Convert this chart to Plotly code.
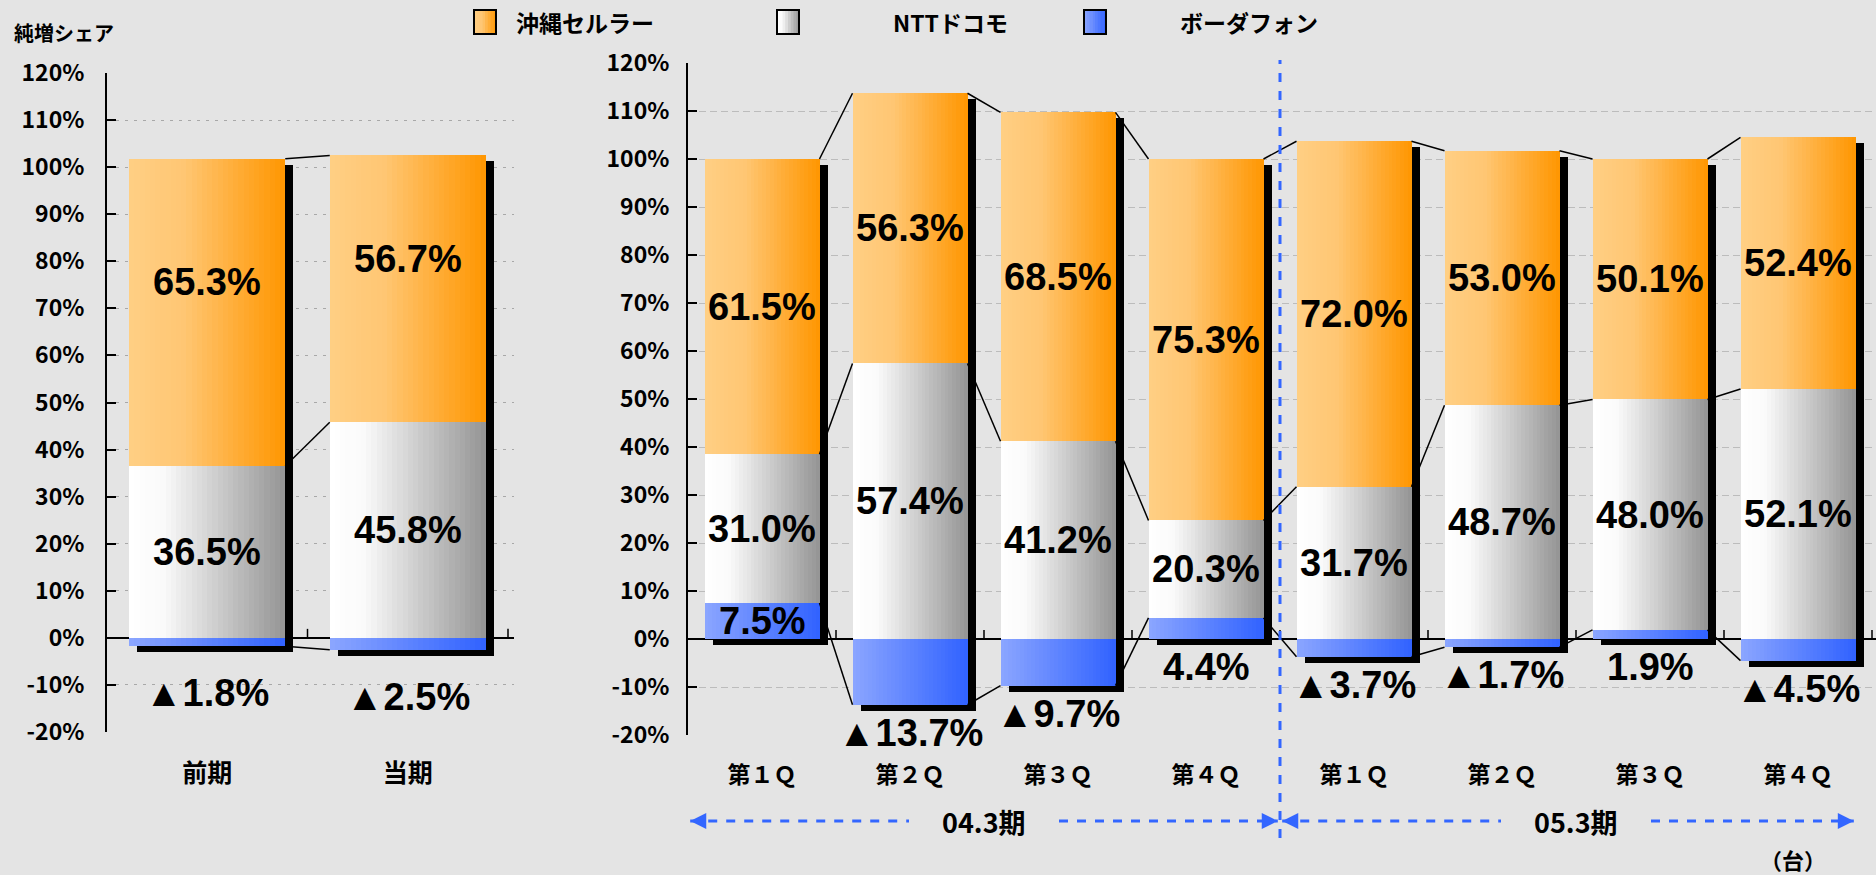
import plotly.graph_objects as go

# ---------------- data ----------------
series_names = ["沖縄セルラー", "NTTドコモ", "ボーダフォン"]

annual_labels = ["前期", "当期"]
annual_okinawa = [65.3, 56.7]
annual_docomo = [36.5, 45.8]
annual_vodafone = [-1.8, -2.5]

quarter_labels = ["第１Ｑ", "第２Ｑ", "第３Ｑ", "第４Ｑ", "第１Ｑ", "第２Ｑ", "第３Ｑ", "第４Ｑ"]
quarter_okinawa = [61.5, 56.3, 68.5, 75.3, 72.0, 53.0, 50.1, 52.4]
quarter_docomo = [31.0, 57.4, 41.2, 20.3, 31.7, 48.7, 48.0, 52.1]
quarter_vodafone = [7.5, -13.7, -9.7, 4.4, -3.7, -1.7, 1.9, -4.5]

fiscal_periods = ["04.3期", "05.3期"]
quarters_per_period = 4
y_tick_values = list(range(-20, 121, 10))
y_title = "純増シェア"
unit_note = "（台）"

# ---------------- styling ----------------
W_PX, H_PX = 1876, 875
BG = "#e4e4e4"
BLUE_LINE = "#3366ff"
LABEL_FONT = dict(family="Liberation Sans, Arial, sans-serif", size=38, color="black", weight="bold")
JP_FONT = "Noto Sans CJK JP"

ORANGE_STOPS = [(0.0, (255, 207, 132)), (0.35, (255, 198, 115)), (1.0, (255, 150, 0))]
GRAY_STOPS = [(0.0, (255, 255, 255)), (0.22, (250, 250, 250)), (1.0, (148, 148, 148))]
BLUE_STOPS = [(0.0, (140, 166, 255)), (1.0, (48, 98, 255))]
N_SLICES = 30


def px_x(p):
    return p / W_PX


def px_y(p):
    return 1 - p / H_PX


def lerp_color(stops, t):
    for (t0, c0), (t1, c1) in zip(stops, stops[1:]):
        if t <= t1:
            f = (t - t0) / (t1 - t0) if t1 > t0 else 0.0
            return "rgb(%d,%d,%d)" % tuple(round(a + (b - a) * f) for a, b in zip(c0, c1))
    return "rgb(%d,%d,%d)" % stops[-1][1]


def stack(oki, doc, vod):
    segs = {"vod": ([], []), "doc": ([], []), "oki": ([], [])}
    tops, bottoms = [], []
    for o, d, v in zip(oki, doc, vod):
        pos = 0.0
        if v >= 0:
            segs["vod"][0].append(0.0)
            segs["vod"][1].append(v)
            pos = v
        else:
            segs["vod"][0].append(v)
            segs["vod"][1].append(0.0)
        segs["doc"][0].append(pos)
        segs["doc"][1].append(pos + d)
        pos += d
        segs["oki"][0].append(pos)
        segs["oki"][1].append(pos + o)
        pos += o
        tops.append(pos)
        bottoms.append(min(0.0, v))
    return segs, tops, bottoms


fig = go.Figure()

panels = [
    dict(xa="x", ya="y", labels=annual_labels, oki=annual_okinawa, doc=annual_docomo, vod=annual_vodafone,
         xdom=(107, 514), ydom=(73, 732), cat_px=200.5, bar_px=156, griddash="3px,6px", gridcolor="#a8a8a8",
         vod_below=47, oki_shift=30, catfont=25, ystandoff=16),
    dict(xa="x2", ya="y2", labels=quarter_labels, oki=quarter_okinawa, doc=quarter_docomo, vod=quarter_vodafone,
         xdom=(688, 1876), ydom=(63, 735), cat_px=148, bar_px=115, griddash="7px,4px", gridcolor="#bcbcbc",
         vod_below=28, oki_shift=0, catfont=23, ystandoff=12),
]

shapes = []
annotations = []
layout_axes = {}

for pi, P in enumerate(panels):
    n = len(P["labels"])
    idx = list(range(n))
    W = P["bar_px"] / P["cat_px"]
    px_per_unit = (P["ydom"][1] - P["ydom"][0]) / 140.0
    dx = 8 / P["cat_px"]
    dy = 6 / px_per_unit
    segs, tops, bottoms = stack(P["oki"], P["doc"], P["vod"])

    # drop shadow
    fig.add_trace(go.Bar(x=idx, y=[t - b for t, b in zip(tops, bottoms)], base=[b - dy for b in bottoms],
                         width=W, offset=-W / 2 + dx, marker=dict(color="black", line=dict(width=0)),
                         xaxis=P["xa"], yaxis=P["ya"], hoverinfo="skip", showlegend=False))

    # gradient bars
    for key, stops, name in (("vod", BLUE_STOPS, series_names[2]), ("doc", GRAY_STOPS, series_names[1]),
                             ("oki", ORANGE_STOPS, series_names[0])):
        lows, highs = segs[key]
        for k in range(N_SLICES):
            t = (k + 0.5) / N_SLICES
            fig.add_trace(go.Bar(x=idx, y=[h - l for l, h in zip(lows, highs)], base=lows,
                                 width=W * (1 - k / N_SLICES), offset=-W / 2 + W * k / N_SLICES,
                                 marker=dict(color=lerp_color(stops, t), line=dict(width=0)),
                                 xaxis=P["xa"], yaxis=P["ya"], name=name, hoverinfo="skip",
                                 showlegend=False))

    # series connector lines
    for levels in (tops, segs["doc"][1], P["vod"]):
        xs, ys = [], []
        for i in range(n - 1):
            xs += [i + W / 2, i + 1 - W / 2, None]
            ys += [levels[i], levels[i + 1], None]
        fig.add_trace(go.Scatter(x=xs, y=ys, mode="lines", line=dict(color="black", width=1.5),
                                 xaxis=P["xa"], yaxis=P["ya"], hoverinfo="skip", showlegend=False))

    # data labels
    for i in idx:
        ol, oh = segs["oki"][0][i], segs["oki"][1][i]
        annotations.append(dict(x=i, y=(ol + oh) / 2, xref=P["xa"], yref=P["ya"], text=f"{P['oki'][i]:.1f}%",
                                showarrow=False, font=LABEL_FONT, yshift=P["oki_shift"], yanchor="middle"))
        dl, dh = segs["doc"][0][i], segs["doc"][1][i]
        annotations.append(dict(x=i, y=(dl + dh) / 2, xref=P["xa"], yref=P["ya"], text=f"{P['doc'][i]:.1f}%",
                                showarrow=False, font=LABEL_FONT, yanchor="middle"))
        v = P["vod"][i]
        txt = f"▲{abs(v):.1f}%" if v < 0 else f"{v:.1f}%"
        if v >= 5:
            annotations.append(dict(x=i, y=v / 2, xref=P["xa"], yref=P["ya"], text=txt,
                                    showarrow=False, font=LABEL_FONT, yanchor="middle"))
        else:
            annotations.append(dict(x=i, y=bottoms[i], xref=P["xa"], yref=P["ya"], text=txt,
                                    showarrow=False, font=LABEL_FONT, yanchor="middle",
                                    yshift=-P["vod_below"]))

    # category boundary tick marks on the zero line
    for i in idx:
        shapes.append(dict(type="line", xref=P["xa"], yref=P["ya"], x0=i + 0.5, x1=i + 0.5,
                           ysizemode="pixel", yanchor=0, y0=0, y1=9, line=dict(color="black", width=1.5)))

    xr_max = -0.5 + (P["xdom"][1] - P["xdom"][0]) / P["cat_px"]
    suffix = "" if pi == 0 else "2"
    layout_axes["xaxis" + suffix] = dict(
        domain=[px_x(P["xdom"][0]), px_x(P["xdom"][1])], range=[-0.5, xr_max], anchor=P["ya"],
        tickvals=idx, ticktext=P["labels"], showline=False, ticks="", showgrid=False, zeroline=False,
        tickfont=dict(family=JP_FONT, size=P["catfont"], color="black", weight="bold"),
        ticklabelstandoff=24, fixedrange=True, automargin=False)
    layout_axes["yaxis" + suffix] = dict(
        domain=[px_y(P["ydom"][1]), px_y(P["ydom"][0])], range=[-20, 120], anchor=P["xa"],
        tickvals=y_tick_values, ticktext=[f"{v}%" for v in y_tick_values],
        showline=True, linecolor="black", linewidth=2, ticks="inside", ticklen=9, tickwidth=2,
        tickcolor="black", showgrid=True, gridcolor=P["gridcolor"], griddash=P["griddash"], gridwidth=1,
        zeroline=True, zerolinecolor="black", zerolinewidth=1.5,
        tickfont=dict(family=JP_FONT, size=23, color="black", weight="bold"),
        ticklabelstandoff=P["ystandoff"], fixedrange=True, automargin=False)

# ---------- period divider and arrows (right panel) ----------
right_max = -0.5 + (1876 - 688) / 148
shapes.append(dict(type="line", xref="x2", yref="paper", x0=quarters_per_period - 0.5,
                   x1=quarters_per_period - 0.5, y0=px_y(838), y1=px_y(60),
                   line=dict(color=BLUE_LINE, width=3, dash="dash")))
arrow_y = px_y(821)
gap_half = 75 / 148
for p, period in enumerate(fiscal_periods):
    x_start = p * quarters_per_period - 0.5 + 0.015
    x_end = min((p + 1) * quarters_per_period - 0.5 - 0.015, right_max - 0.15)
    x_mid = p * quarters_per_period + (quarters_per_period - 1) / 2
    for a, b in ((x_start, x_mid - gap_half), (x_mid + gap_half, x_end)):
        shapes.append(dict(type="line", xref="x2", yref="paper", x0=a, x1=b, y0=arrow_y, y1=arrow_y,
                           line=dict(color=BLUE_LINE, width=3, dash="dash")))
    shapes.append(dict(type="path", xref="x2", yref="paper", xsizemode="pixel", ysizemode="pixel",
                       xanchor=x_start, yanchor=arrow_y, path="M 0,0 L 16,8 L 16,-8 Z",
                       fillcolor=BLUE_LINE, line=dict(width=0)))
    shapes.append(dict(type="path", xref="x2", yref="paper", xsizemode="pixel", ysizemode="pixel",
                       xanchor=x_end, yanchor=arrow_y, path="M 0,0 L -16,8 L -16,-8 Z",
                       fillcolor=BLUE_LINE, line=dict(width=0)))
    annotations.append(dict(x=x_mid, y=arrow_y, xref="x2", yref="paper", text=period, showarrow=False,
                            xanchor="center", yanchor="middle",
                            font=dict(family=JP_FONT, size=27, color="black", weight="bold")))

# ---------- manual legend ----------
legend_boxes = [(474, 514, ORANGE_STOPS), (777, 891, GRAY_STOPS), (1084, 1178, BLUE_STOPS)]
for (bx, tx, stops), name in zip(legend_boxes, series_names):
    nb = 8
    for k in range(nb):
        shapes.append(dict(type="rect", xref="paper", yref="paper",
                           x0=px_x(bx + 22 * k / nb), x1=px_x(bx + 22 * (k + 1) / nb + 0.5),
                           y0=px_y(34), y1=px_y(10), fillcolor=lerp_color(stops, (k + 0.5) / nb),
                           line=dict(width=0)))
    shapes.append(dict(type="rect", xref="paper", yref="paper", x0=px_x(bx), x1=px_x(bx + 22),
                       y0=px_y(34), y1=px_y(10), line=dict(color="black", width=2)))
    annotations.append(dict(x=px_x(tx), y=px_y(22), xref="paper", yref="paper", text=name,
                            showarrow=False, xanchor="left", yanchor="middle",
                            font=dict(family=JP_FONT, size=23, color="black", weight="bold")))

annotations.append(dict(x=px_x(12), y=px_y(33), xref="paper", yref="paper", text=y_title, showarrow=False,
                        xanchor="left", yanchor="middle",
                        font=dict(family=JP_FONT, size=20, color="black", weight="bold")))
annotations.append(dict(x=px_x(1793), y=px_y(859), xref="paper", yref="paper", text=unit_note,
                        showarrow=False, xanchor="center", yanchor="middle",
                        font=dict(family=JP_FONT, size=22, color="black", weight="bold")))

fig.update_layout(
    width=W_PX, height=H_PX, autosize=False,
    margin=dict(l=0, r=0, t=0, b=0, pad=0, autoexpand=False),
    paper_bgcolor=BG, plot_bgcolor=BG,
    barmode="overlay", bargap=0,
    showlegend=False,
    shapes=shapes, annotations=annotations,
    **layout_axes,
)

fig.write_html("out.html",
               config={"displayModeBar": False},
               post_script="document.body.style.margin='0';document.body.style.padding='0';"
                           "document.body.style.overflow='hidden';"
                           "document.documentElement.style.overflow='hidden';")
